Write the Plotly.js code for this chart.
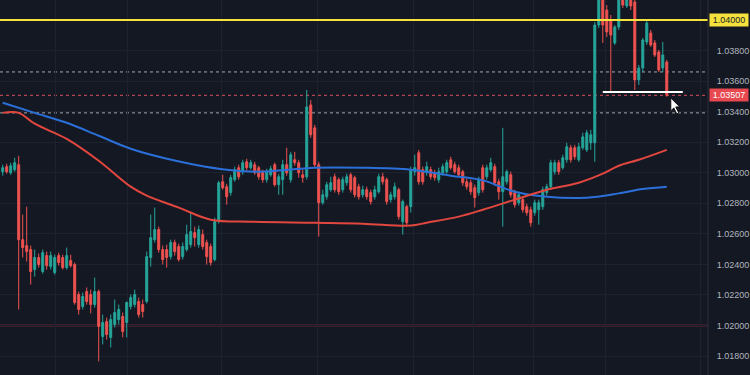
<!DOCTYPE html>
<html>
<head>
<meta charset="utf-8">
<script src="https://cdn.plot.ly/plotly-3.0.1.min.js"></script>
<style>
  html, body { margin: 0; padding: 0; background: #141823; }
  #chart { width: 750px; height: 375px; }
</style>
</head>
<body>
<div id="chart"></div>
<script>
// ---- candle data ----
const openP = [
  1.03007,1.03040,1.03000,1.03020,1.03053,1.02562,1.02523,1.02497,1.02366,1.02445,
  1.02353,1.02458,1.02386,1.02347,1.02458,1.02445,1.02379,1.02425,1.02399,1.02203,
  1.02124,1.02222,1.02203,1.02137,1.02222,1.01928,1.02026,1.01922,1.02007,1.02039,
  1.02059,1.02020,1.02124,1.02137,1.02157,1.02137,1.02157,1.02445,1.02562,1.02628,
  1.02497,1.02497,1.02451,1.02543,1.02517,1.02451,1.02497,1.02530,1.02608,1.02530,
  1.02595,1.02543,1.02517,1.02432,1.02680,1.02941,1.02909,1.02870,1.02955,1.03033,
  1.03007,1.03072,1.03033,1.03053,1.03033,1.03007,1.02955,1.02987,1.03053,1.02922,
  1.02955,1.03053,1.02955,1.03085,1.03066,1.02987,1.02974,1.03444,1.03294,1.03053,
  1.02804,1.02843,1.02889,1.02974,1.02955,1.02889,1.02935,1.02987,1.02968,1.02909,
  1.02856,1.02889,1.02870,1.02843,1.02876,1.02974,1.02955,1.02824,1.02843,1.02889,
  1.02680,1.02778,1.02778,1.03007,1.03131,1.03020,1.03000,1.03020,1.03000,1.02955,
  1.03000,1.03007,1.03085,1.03053,1.03033,1.03007,1.02941,1.02935,1.02902,1.02870,
  1.03033,1.02974,1.03020,1.03040,1.02941,1.02876,1.02941,1.02987,1.02870,1.02804,
  1.02824,1.02778,1.02758,1.02739,1.02758,1.02778,1.02870,1.02909,1.03007,1.03066,
  1.03033,1.03085,1.03164,1.03164,1.03085,1.03164,1.03150,1.03196,1.03196,1.03967,
  1.04163,1.04065,1.04000,1.03850,1.03954,1.04151,1.04092,1.04144,1.04118,1.03608,
  1.03686,1.03856,1.03915,1.03850,1.03791,1.03686,1.03725
];
const highP = [
  1.03053,1.03059,1.03066,1.03098,1.03111,1.02726,1.02778,1.02523,1.02497,1.02471,
  1.02497,1.02484,1.02484,1.02464,1.02477,1.02464,1.02510,1.02464,1.02412,1.02222,
  1.02216,1.02249,1.02235,1.02314,1.02235,1.02072,1.02052,1.02072,1.02170,1.02137,
  1.02085,1.02157,1.02203,1.02235,1.02183,1.02170,1.02484,1.02726,1.02772,1.02647,
  1.02523,1.02530,1.02562,1.02562,1.02536,1.02543,1.02660,1.02739,1.02647,1.02654,
  1.02628,1.02562,1.02536,1.02706,1.02948,1.02987,1.02928,1.02987,1.03040,1.03053,
  1.03085,1.03092,1.03085,1.03072,1.03046,1.03020,1.03026,1.03046,1.03066,1.02994,
  1.03085,1.03164,1.03137,1.03137,1.03085,1.03020,1.03542,1.03477,1.03314,1.03072,
  1.02889,1.02941,1.02974,1.02994,1.02968,1.02974,1.02994,1.03000,1.02981,1.02928,
  1.02915,1.02909,1.02889,1.02915,1.02994,1.03000,1.02968,1.02876,1.02935,1.02902,
  1.02824,1.02791,1.03040,1.03118,1.03150,1.03040,1.03072,1.03040,1.03020,1.03033,
  1.03059,1.03085,1.03105,1.03072,1.03053,1.03020,1.02961,1.02955,1.02922,1.02974,
  1.03053,1.03053,1.03098,1.03059,1.02961,1.03294,1.03020,1.03007,1.02889,1.02876,
  1.02843,1.02798,1.02778,1.02824,1.02824,1.02909,1.02928,1.03085,1.03085,1.03085,
  1.03118,1.03196,1.03183,1.03183,1.03196,1.03262,1.03281,1.03281,1.03987,1.04261,
  1.04229,1.04098,1.04033,1.03967,1.04183,1.04196,1.04183,1.04183,1.04163,1.03706,
  1.03882,1.04000,1.03935,1.03869,1.03804,1.03856,1.03739
];
const lowP = [
  1.02981,1.02994,1.02987,1.03007,1.02105,1.02445,1.02419,1.02268,1.02320,1.02379,
  1.02340,1.02366,1.02366,1.02333,1.02392,1.02366,1.02366,1.02379,1.02137,1.02072,
  1.02105,1.02137,1.02079,1.02118,1.01765,1.01876,1.01908,1.01856,1.01987,1.02007,
  1.01922,1.01922,1.02105,1.02118,1.02052,1.02052,1.02144,1.02386,1.02543,1.02477,
  1.02399,1.02379,1.02432,1.02458,1.02419,1.02432,1.02484,1.02510,1.02517,1.02510,
  1.02497,1.02399,1.02392,1.02419,1.02667,1.02889,1.02791,1.02850,1.02941,1.02955,
  1.02987,1.03013,1.03020,1.02987,1.02955,1.02935,1.02935,1.02974,1.02909,1.02856,
  1.02856,1.02981,1.02935,1.03046,1.02968,1.02935,1.02955,1.03229,1.03033,1.02582,
  1.02791,1.02824,1.02876,1.02870,1.02856,1.02870,1.02915,1.02870,1.02837,1.02824,
  1.02837,1.02824,1.02791,1.02824,1.02863,1.02922,1.02791,1.02804,1.02824,1.02693,
  1.02595,1.02654,1.02739,1.02981,1.02922,1.02922,1.02981,1.02955,1.02948,1.02935,
  1.02981,1.02994,1.03020,1.02994,1.02974,1.02915,1.02889,1.02856,1.02772,1.02850,
  1.02870,1.02955,1.03007,1.02915,1.02824,1.02647,1.02922,1.02837,1.02772,1.02785,
  1.02739,1.02719,1.02647,1.02719,1.02660,1.02758,1.02850,1.02889,1.02987,1.02987,
  1.03020,1.03066,1.03066,1.03085,1.03072,1.03150,1.03137,1.03150,1.03072,1.03948,
  1.03850,1.03889,1.03529,1.03837,1.03935,1.04079,1.04079,1.04065,1.03542,1.03575,
  1.03660,1.03837,1.03824,1.03758,1.03660,1.03660,1.03497
];
const closeP = [
  1.03033,1.03007,1.03046,1.03066,1.02562,1.02510,1.02484,1.02353,1.02445,1.02399,
  1.02477,1.02392,1.02458,1.02445,1.02412,1.02379,1.02458,1.02392,1.02151,1.02105,
  1.02190,1.02157,1.02137,1.02222,1.01994,1.02020,1.01941,1.02039,1.02085,1.02105,
  1.01961,1.02151,1.02183,1.02203,1.02072,1.02092,1.02451,1.02575,1.02628,1.02497,
  1.02432,1.02445,1.02543,1.02484,1.02432,1.02517,1.02595,1.02615,1.02575,1.02628,
  1.02517,1.02451,1.02412,1.02680,1.02935,1.02902,1.02843,1.02968,1.03020,1.02974,
  1.03066,1.03033,1.03066,1.03000,1.02974,1.02955,1.03007,1.03026,1.02922,1.02974,
  1.03053,1.03000,1.03118,1.03066,1.03000,1.02968,1.03431,1.03249,1.03053,1.02804,
  1.02856,1.02922,1.02935,1.02889,1.02876,1.02955,1.02974,1.02889,1.02856,1.02843,
  1.02889,1.02843,1.02811,1.02889,1.02974,1.02941,1.02811,1.02856,1.02909,1.02713,
  1.02811,1.02673,1.03020,1.03033,1.02941,1.02941,1.03040,1.02974,1.02968,1.03007,
  1.03040,1.03066,1.03033,1.03007,1.02987,1.02935,1.02909,1.02876,1.02837,1.02955,
  1.02889,1.03033,1.03066,1.02935,1.02876,1.02974,1.03007,1.02856,1.02791,1.02856,
  1.02758,1.02739,1.02673,1.02804,1.02804,1.02889,1.02909,1.03066,1.03066,1.03007,
  1.03098,1.03170,1.03085,1.03105,1.03170,1.03235,1.03262,1.03249,1.03967,1.04196,
  1.03967,1.03922,1.03902,1.03954,1.04144,1.04098,1.04144,1.04092,1.03608,1.03686,
  1.03869,1.03980,1.03837,1.03771,1.03673,1.03771,1.03507
];

// ---- moving averages (sampled at candle indices) ----
const maBlueIdx = [0, 8, 16, 24, 32, 40, 48, 56, 64, 78, 90, 102, 112, 120, 128, 136, 146, 154, 160, 166];
const maBlueVal = [1.03458,1.03392,1.03327,1.03242,1.03157,1.03098,1.03053,1.03020,1.03007,1.03033,
                   1.03033,1.03020,1.02981,1.02950,1.02876,1.02843,1.02837,1.02865,1.02893,1.02909];
const maRedIdx = [0, 4, 8, 16, 24, 32, 36, 44, 52, 62, 78, 90, 102, 106, 114, 120, 128, 136, 144, 150, 154, 159, 166];
const maRedVal = [1.03392,1.03392,1.03321,1.03222,1.03079,1.02909,1.02850,1.02772,1.02693,1.02680,
                  1.02673,1.02667,1.02654,1.02673,1.02713,1.02758,1.02824,1.02889,1.02935,1.02994,
                  1.03046,1.03085,1.03150];

// ---- levels ----
const yTicks = [1.018,1.020,1.022,1.024,1.026,1.028,1.030,1.032,1.034,1.036,1.038];
const yTickText = yTicks.map(v => v.toFixed(5));
const resistance = 1.04000;
const supportLine = 1.02000;
const dottedLevels = [1.03660, 1.03392];
const lastPrice = 1.03507;
const whiteLevel = 1.03528, whiteFrom = 150, whiteTo = 170;
const gridX = [13.1, 31.3, 54.8, 78.6, 102.6, 117.8, 132.8, 150.8, 174.3];

const idx = openP.map((_, i) => i);

const traces = [
  {
    type: 'candlestick', x: idx, open: openP, high: highP, low: lowP, close: closeP,
    increasing: { line: { color: '#26a69a', width: 1 }, fillcolor: '#26a69a' },
    decreasing: { line: { color: '#ef5350', width: 1 }, fillcolor: '#ef5350' },
    whiskerwidth: 0, hoverinfo: 'skip', showlegend: false
  },
  {
    type: 'scatter', mode: 'lines', x: maBlueIdx, y: maBlueVal,
    line: { color: '#2b6fd8', width: 2, shape: 'spline', smoothing: 1 },
    hoverinfo: 'skip', showlegend: false
  },
  {
    type: 'scatter', mode: 'lines', x: maRedIdx, y: maRedVal,
    line: { color: '#e2473f', width: 2, shape: 'spline', smoothing: 1 },
    hoverinfo: 'skip', showlegend: false
  }
];

const shapes = [
  { type: 'line', xref: 'paper', x0: 0, x1: 1, yref: 'y', y0: supportLine, y1: supportLine,
    line: { color: '#a8323f', width: 1.5 }, layer: 'below' },
  ...dottedLevels.map(v => ({ type: 'line', xref: 'paper', x0: 0, x1: 1, yref: 'y', y0: v, y1: v,
    line: { color: '#a3a6ae', width: 1, dash: 'dot' }, layer: 'below' })),
  { type: 'line', xref: 'paper', x0: 0, x1: 1, yref: 'y', y0: lastPrice, y1: lastPrice,
    line: { color: '#d9505b', width: 1, dash: 'dot' }, layer: 'below' },
  { type: 'line', xref: 'paper', x0: 0, x1: 1, yref: 'y', y0: resistance, y1: resistance,
    line: { color: '#f5e23c', width: 2 }, layer: 'above' },
  { type: 'line', xref: 'x', x0: whiteFrom, x1: whiteTo, yref: 'y', y0: whiteLevel, y1: whiteLevel,
    line: { color: '#ffffff', width: 2 } },
  { type: 'line', xref: 'paper', x0: 1, x1: 1, yref: 'paper', y0: 0, y1: 1,
    line: { color: '#2a2e39', width: 1 } },
  // mouse cursor
  { type: 'path', xref: 'x', yref: 'y', xsizemode: 'pixel', ysizemode: 'pixel',
    xanchor: 167, yanchor: 1.03490,
    path: 'M0,0 L0,-13 L3,-10 L6,-16 L8,-15 L5,-9 L9,-9 Z',
    fillcolor: '#ffffff', line: { color: '#111111', width: 1 } }
];

const annotations = [
  { xref: 'paper', x: 1, xanchor: 'left', xshift: 1, yref: 'y', y: resistance,
    text: resistance.toFixed(5), showarrow: false, bgcolor: '#f5e23c',
    font: { color: '#1b1e27', size: 9, family: 'Liberation Sans, Arial, sans-serif' },
    width: 38, height: 12, borderpad: 0 },
  { xref: 'paper', x: 1, xanchor: 'left', xshift: 1, yref: 'y', y: lastPrice,
    text: lastPrice.toFixed(5), showarrow: false, bgcolor: '#e8484f',
    font: { color: '#ffffff', size: 9, family: 'Liberation Sans, Arial, sans-serif' },
    width: 38, height: 12, borderpad: 0 }
];

const layout = {
  width: 750, height: 375,
  margin: { l: 0, r: 42, t: 0, b: 0, pad: 0 },
  paper_bgcolor: '#141823', plot_bgcolor: '#141823',
  showlegend: false,
  xaxis: {
    range: [-0.675, 176.3], rangeslider: { visible: false },
    tickmode: 'array', tickvals: gridX, showticklabels: false, ticks: '',
    showgrid: true, gridcolor: '#1e2230', gridwidth: 1, zeroline: false, showline: false,
    fixedrange: true
  },
  yaxis: {
    side: 'right', range: [1.01676, 1.04131],
    tickmode: 'array', tickvals: yTicks, ticktext: yTickText,
    ticks: 'outside', ticklen: 6, tickcolor: 'rgba(0,0,0,0)',
    tickfont: { color: '#b2b5be', size: 9, family: 'Liberation Sans, Arial, sans-serif' },
    showgrid: true, gridcolor: '#1e2230', gridwidth: 1, zeroline: false, showline: false,
    fixedrange: true
  },
  shapes: shapes,
  annotations: annotations,
  hovermode: false
};

Plotly.newPlot('chart', traces, layout, { displayModeBar: false, staticPlot: true });
</script>
</body>
</html>
